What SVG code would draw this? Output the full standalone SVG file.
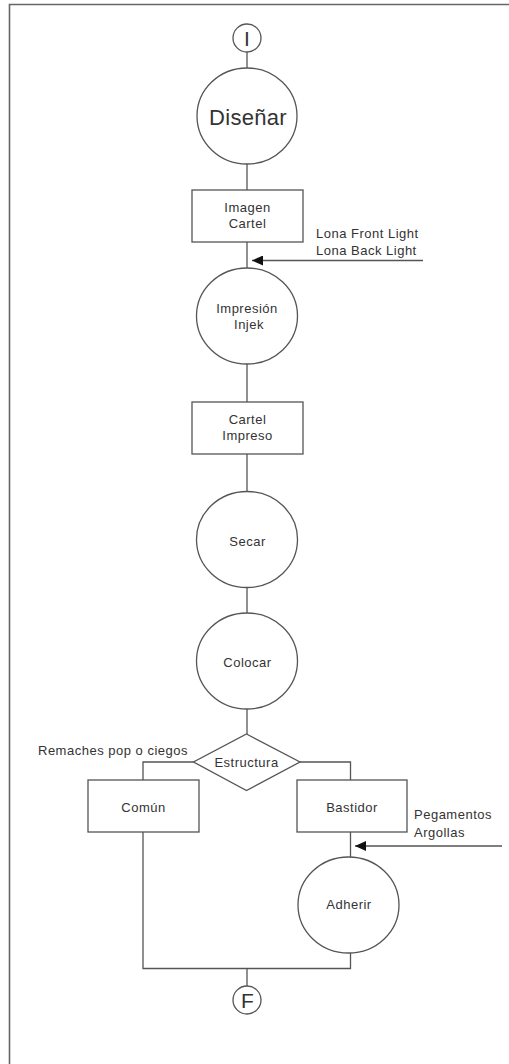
<svg xmlns="http://www.w3.org/2000/svg" width="509" height="1064" viewBox="0 0 509 1064">
  <style>
    .shape { fill: #ffffff; stroke: #555555; stroke-width: 1.3; }
    .wire { fill: none; stroke: #555555; stroke-width: 1.3; }
    .frame { fill: none; stroke: #666666; stroke-width: 1.6; }
    .lbl { font-family: "Liberation Sans", Arial, sans-serif; font-size: 13px; letter-spacing: 0.5px; fill: #333333; }
    .mid { text-anchor: middle; }
    .big { font-size: 22px; letter-spacing: 0.3px; }
    .term { font-size: 21px; letter-spacing: 0; }
  </style>
  <defs>
    <marker id="arrow" viewBox="0 0 11 10" refX="11" refY="5" markerWidth="11" markerHeight="10" markerUnits="userSpaceOnUse" orient="auto">
      <path d="M0,0 L11,5 L0,10 Z" fill="#111111"/>
    </marker>
  </defs>

  <rect width="509" height="1064" fill="#ffffff"/>
  <!-- page frame (top and left edges) -->
  <path class="frame" d="M9.5,1064 V4.5 H509"/>

  <g id="connectors">
    <path class="wire" d="M247,52 V68"/>
    <path class="wire" d="M247,164 V190"/>
    <path class="wire" d="M247,242 V268"/>
    <path class="wire" d="M423,260.5 H252" marker-end="url(#arrow)"/>
    <path class="wire" d="M247,364 V402"/>
    <path class="wire" d="M247,454 V491.5"/>
    <path class="wire" d="M247,587.5 V613"/>
    <path class="wire" d="M247,709 V734"/>
    <path class="wire" d="M193.5,762 H143 V780"/>
    <path class="wire" d="M300,762 H350.5 V780"/>
    <path class="wire" d="M350.5,832 V857"/>
    <path class="wire" d="M502,846 H355" marker-end="url(#arrow)"/>
    <path class="wire" d="M143,832 V968.5 H350.5 V953"/>
    <path class="wire" d="M247,968.5 V986"/>
  </g>

  <g id="inicio">
    <circle class="shape" cx="247" cy="38" r="14"/>
    <text class="lbl mid term" x="247" y="45.5">I</text>
  </g>

  <g id="disenar">
    <ellipse class="shape" cx="247" cy="116" rx="50" ry="48"/>
    <text class="lbl mid big" x="248" y="125">Diseñar</text>
  </g>

  <g id="imagen-cartel">
    <rect class="shape" x="192" y="190" width="111" height="52"/>
    <text class="lbl mid" x="247.5" y="212">Imagen</text>
    <text class="lbl mid" x="247.5" y="228">Cartel</text>
  </g>

  <g id="lona">
    <text class="lbl" x="316" y="238">Lona Front Light</text>
    <text class="lbl" x="316" y="255">Lona Back Light</text>
  </g>

  <g id="impresion">
    <ellipse class="shape" cx="247" cy="316" rx="50.5" ry="48"/>
    <text class="lbl mid" x="247" y="313">Impresión</text>
    <text class="lbl mid" x="249" y="329">Injek</text>
  </g>

  <g id="cartel-impreso">
    <rect class="shape" x="192" y="402" width="111" height="52"/>
    <text class="lbl mid" x="247.5" y="424">Cartel</text>
    <text class="lbl mid" x="247.5" y="439.5">Impreso</text>
  </g>

  <g id="secar">
    <ellipse class="shape" cx="247" cy="539.5" rx="50.5" ry="48"/>
    <text class="lbl mid" x="247.5" y="546">Secar</text>
  </g>

  <g id="colocar">
    <ellipse class="shape" cx="247" cy="661" rx="50.5" ry="48"/>
    <text class="lbl mid" x="247.5" y="667">Colocar</text>
  </g>

  <g id="estructura">
    <polygon class="shape" points="246.5,734 300,762 246.5,790.5 193.5,762"/>
    <text class="lbl mid" x="246.5" y="767">Estructura</text>
  </g>

  <g id="remaches">
    <text class="lbl" x="38" y="755">Remaches pop o ciegos</text>
  </g>

  <g id="comun">
    <rect class="shape" x="88" y="780" width="111" height="52"/>
    <text class="lbl mid" x="143.5" y="812">Común</text>
  </g>

  <g id="bastidor">
    <rect class="shape" x="297" y="780" width="110" height="52"/>
    <text class="lbl mid" x="352" y="812">Bastidor</text>
  </g>

  <g id="pegamentos">
    <text class="lbl" x="414" y="819">Pegamentos</text>
    <text class="lbl" x="414" y="837">Argollas</text>
  </g>

  <g id="adherir">
    <ellipse class="shape" cx="348.5" cy="905" rx="50.5" ry="48"/>
    <text class="lbl mid" x="349" y="908.5">Adherir</text>
  </g>

  <g id="fin">
    <circle class="shape" cx="247" cy="1000" r="14"/>
    <text class="lbl mid term" x="247.5" y="1007.5">F</text>
  </g>
</svg>
